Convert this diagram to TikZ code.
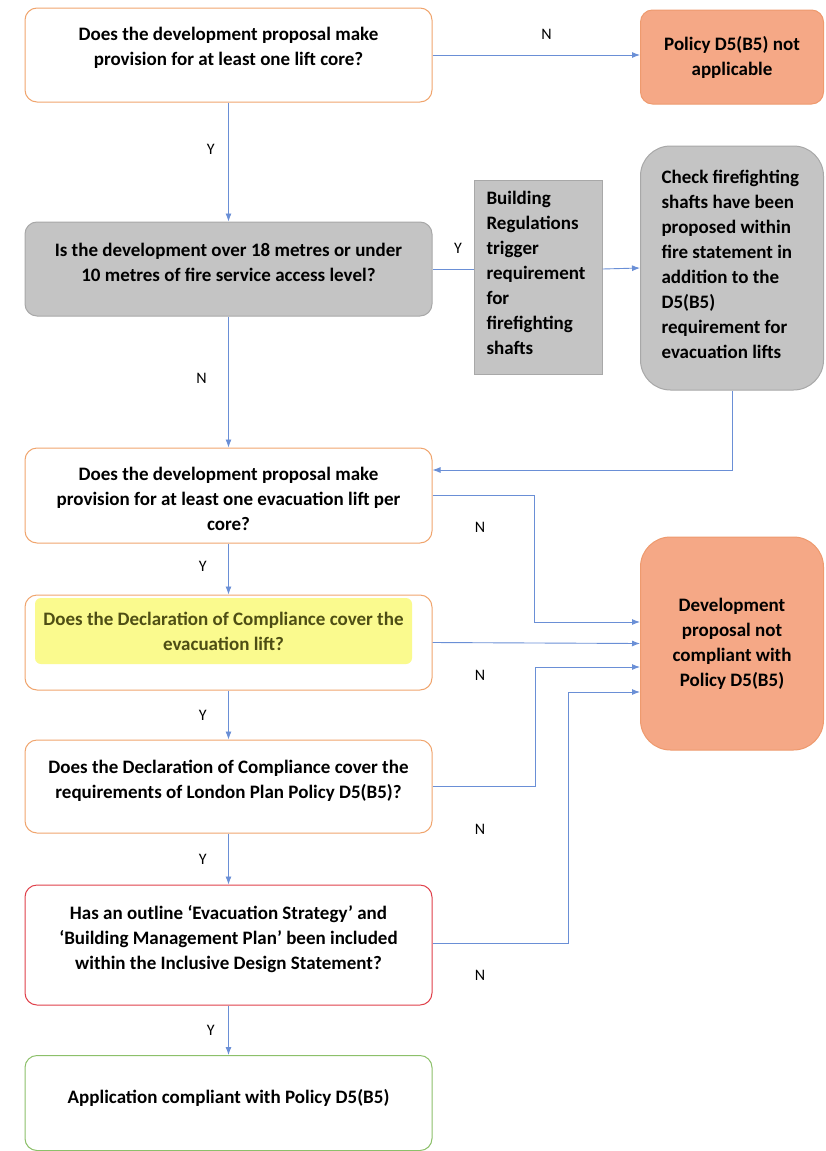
\documentclass[tikz,border=0pt]{standalone}
\usepackage{fontspec}
\setmainfont{Carlito}
\usetikzlibrary{arrows.meta}
\definecolor{qorange}{HTML}{F0A56E}
\definecolor{qred}{HTML}{E0404A}
\definecolor{qgreen}{HTML}{8CC06A}
\definecolor{qgray}{HTML}{C4C4C4}
\definecolor{qgrayline}{HTML}{A8A8A8}
\definecolor{qsalmon}{HTML}{F5A886}
\definecolor{qsalmonline}{HTML}{EE9A6E}
\definecolor{qblue}{HTML}{6A8FD6}
\definecolor{qyellow}{HTML}{FAFA8E}
\definecolor{qolive}{HTML}{4E4E14}
\begin{document}
\begin{tikzpicture}[x=1pt,y=-1pt, >={Latex[length=8pt,width=6pt]}]
\tikzstyle{question} = [rectangle, rounded corners=12pt, minimum width=407pt, minimum height=94pt, draw=qorange, line width=1pt, fill=white]
\tikzstyle{qtext} = [align=center, font=\bfseries\fontsize{19}{25}\selectfont]
\tikzstyle{outcome} = [rectangle, rounded corners=12pt, align=center, minimum width=183pt, minimum height=94pt, draw=qsalmonline, line width=1pt, fill=qsalmon, font=\bfseries\fontsize{19}{25}\selectfont]
\tikzstyle{note} = [rectangle, draw=qgrayline, line width=1pt, fill=qgray]
\tikzstyle{ntext} = [align=left, font=\bfseries\fontsize{19}{25}\selectfont]
\tikzstyle{answer} = [font=\fontsize{16}{18}\selectfont]
\tikzstyle{link} = [qblue, line width=0.9pt]
\useasboundingbox (0,0) rectangle (825,1151);
% boxes
\node[question] at (228.5, 55) (q1){};
\node[qtext] at (228.5, 48) (q1t){Does the development proposal make\\provision for at least one lift core?};
\node[outcome] at (732, 57) (na){Policy D5(B5) not\\applicable};
\node[question, fill=qgray, draw=qgrayline] at (228.5, 269) (q2){};
\node[qtext] at (228.5, 262) (q2t){Is the development over 18 metres or under\\10 metres of fire service access level?};
\node[note, minimum width=128pt, minimum height=194pt] at (538, 277) (br){};
\node[ntext, anchor=west] at (483, 273) (brt){Building\\Regulations\\trigger\\requirement\\for\\firefighting\\shafts};
\node[note, rounded corners=30pt, minimum width=183pt, minimum height=244pt] at (732, 268) (check){};
\node[ntext, anchor=west] at (658, 264) (checkt){Check firefighting\\shafts have been\\proposed within\\fire statement in\\addition to the\\D5(B5)\\requirement for\\evacuation lifts};
\node[question, minimum height=95pt] at (228.5, 495.5) (q3){};
\node[qtext] at (228.5, 499) (q3t){Does the development proposal make\\provision for at least one evacuation lift per\\core?};
\node[question, minimum height=95pt] at (228.5, 642.5) (q4){};
\node[rectangle, rounded corners=6pt, fill=qyellow, minimum width=377pt, minimum height=66pt, text=qolive, qtext] at (223.5, 631) (hl){Does the Declaration of Compliance cover the\\evacuation lift?};
\node[question, minimum height=93pt] at (228.5, 786.5) (q5){};
\node[qtext] at (228.5, 781) (q5t){Does the Declaration of Compliance cover the\\requirements of London Plan Policy D5(B5)?};
\node[question, draw=qred, minimum height=120pt] at (228.5, 945) (q6){};
\node[qtext] at (228.5, 939) (q6t){Has an outline ‘Evacuation Strategy’ and\\‘Building Management Plan’ been included\\within the Inclusive Design Statement?};
\node[question, draw=qgreen, minimum height=95pt] at (228.5, 1103) (q7){};
\node[qtext] at (228.5, 1098) (q7t){Application compliant with Policy D5(B5)};
\node[outcome, rounded corners=30pt, minimum height=213pt] at (732, 643.5) (nc){Development\\proposal not\\compliant with\\Policy D5(B5)};
% answers on the right
\node[answer] at (480, 527) (n3){N};
\node[answer] at (480, 675) (n4){N};
\node[answer] at (480, 829) (n5){N};
\node[answer] at (480, 975) (n6){N};
% connectors
\draw[link, ->] (q1.east) -- (q1.east -| na.west) node[answer, pos=0.55, above=12pt, text=black]{N};
\draw[link, ->] (q1) -- (q2) node[answer, pos=0.39, left=10pt, text=black]{Y};
\draw[link] (q2.east) -- (q2.east -| br.west) node[answer, pos=0.62, above=12pt, text=black]{Y};
\draw[link, ->] (q2.east -| br.east) -- (check.west);
\draw[link, ->] (check.south) |- ([yshift=25.5]q3.east);
\draw[link, ->] (q2) -- (q3) node[answer, pos=0.47, left=18pt, text=black]{N};
\draw[link, ->] (q3) -- (q4) node[answer, pos=0.45, left=18pt, text=black]{Y};
\draw[link, ->] (q4) -- (q5) node[answer, pos=0.5, left=18pt, text=black]{Y};
\draw[link, ->] (q5) -- (q6) node[answer, pos=0.5, left=18pt, text=black]{Y};
\draw[link, ->] (q6) -- (q7) node[answer, pos=0.5, left=10pt, text=black]{Y};
\draw[link, ->] (q3.east) -- ++(102,0) |- ([yshift=21.5]nc.west);
\draw[link, ->] (q4.east) -- (nc.west);
\draw[link, ->] (q5.east) -- ++(103,0) |- ([yshift=-23.5]nc.west);
\draw[link, ->] ([yshift=2]q6.east) -- ++(136,0) |- ([yshift=-48.5]nc.west);
\end{tikzpicture}
\end{document}
